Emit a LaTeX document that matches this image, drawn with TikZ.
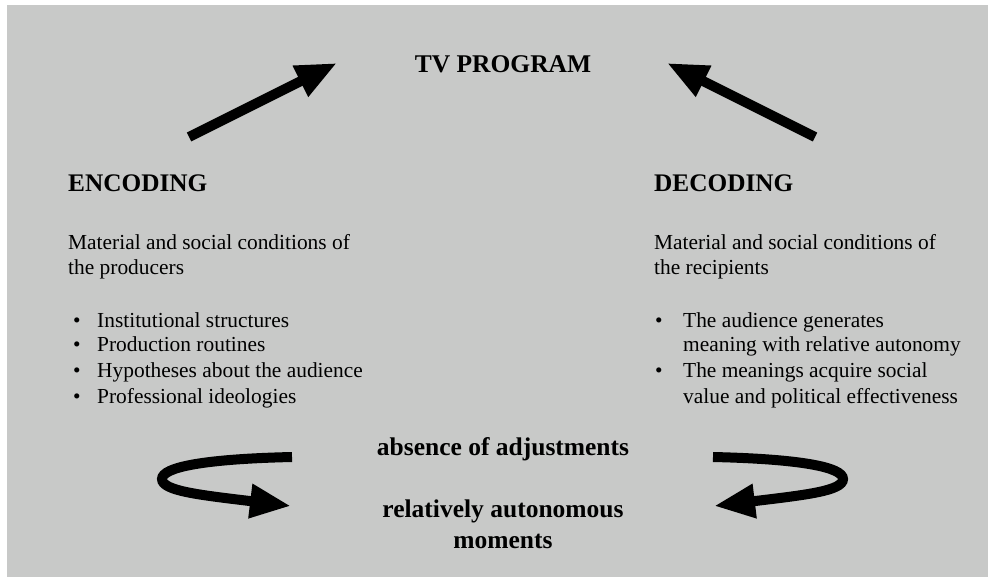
\documentclass[tikz,border=0pt]{standalone}
\usepackage{fontspec}
\setmainfont{Liberation Serif}
\usetikzlibrary{arrows.meta}

\definecolor{panelgray}{RGB}{200,201,200}

\tikzset{
  heading/.style={anchor=base west, inner sep=0pt, font=\fontsize{25.3}{30}\selectfont\bfseries},
  central/.style={anchor=base, inner sep=0pt, font=\fontsize{25.5}{30}\selectfont\bfseries},
  bodytext/.style={anchor=base west, inner sep=0pt, font=\fontsize{21.4}{25}\selectfont},
  bigarrow/.style={line width=10pt, -{Triangle[length=41pt,width=32pt]}},
}

\begin{document}
\begin{tikzpicture}[x=1pt,y=-1pt]
  % page and grey panel
  \fill[white] (0,0) rectangle (988,577);
  \fill[panelgray] (7,5) rectangle (988,577);
  \useasboundingbox (0,0) rectangle (988,577);

  % title
  \node[central] (program) at (503,73) {TV PROGRAM};

  % encoding side
  \node[heading] (encoding) at (68,192) {ENCODING};
  \node[bodytext] (encA) at (68,250) {Material and social conditions of};
  \node[bodytext] (encB) at (68,275) {the producers};
  \node[bodytext] (encb1) at (73,327) {•};
  \node[bodytext] (enc1) at (97,327) {Institutional structures};
  \node[bodytext] (encb2) at (73,352) {•};
  \node[bodytext] (enc2) at (97,352) {Production routines};
  \node[bodytext] (encb3) at (73,377) {•};
  \node[bodytext] (enc3) at (97,377) {Hypotheses about the audience};
  \node[bodytext] (encb4) at (73,403) {•};
  \node[bodytext] (enc4) at (97,403) {Professional ideologies};

  % decoding side
  \node[heading] (decoding) at (654,192) {DECODING};
  \node[bodytext] (decA) at (654,250) {Material and social conditions of};
  \node[bodytext] (decB) at (654,275) {the recipients};
  \node[bodytext] (decb1) at (655,327) {•};
  \node[bodytext] (dec1a) at (683,327) {The audience generates};
  \node[bodytext] (dec1b) at (683,352) {meaning with relative autonomy};
  \node[bodytext] (decb2) at (655,377) {•};
  \node[bodytext] (dec2a) at (683,377) {The meanings acquire social};
  \node[bodytext] (dec2b) at (683,403) {value and political effectiveness};

  % central captions
  \node[central] (absence) at (503,455) {absence of adjustments};
  \node[central] (moments1) at (503,517) {relatively autonomous};
  \node[central] (moments2) at (503,548) {moments};

  % arrow end points
  \coordinate (encTail) at (189,137);
  \coordinate (encTip) at (337,63);
  \coordinate (decTail) at (815,137);
  \coordinate (decTip) at (667,63);
  \coordinate (loopLstart) at (292,457);
  \coordinate (loopLtip) at (291,506);
  \coordinate (loopRstart) at (713,457);
  \coordinate (loopRtip) at (714,506);

  % arrows up to the programme
  \draw[bigarrow] (encTail) -- (encTip);
  \draw[bigarrow] (decTail) -- (decTip);

  % looping arrows
  \draw[bigarrow] (loopLstart) .. controls (205,459) and (162,467) .. (162,479)
                  .. controls (162,491) and (200,495) .. (loopLtip);
  \draw[bigarrow] (loopRstart) .. controls (800,459) and (843,467) .. (843,479)
                  .. controls (843,491) and (805,495) .. (loopRtip);
\end{tikzpicture}
\end{document}
